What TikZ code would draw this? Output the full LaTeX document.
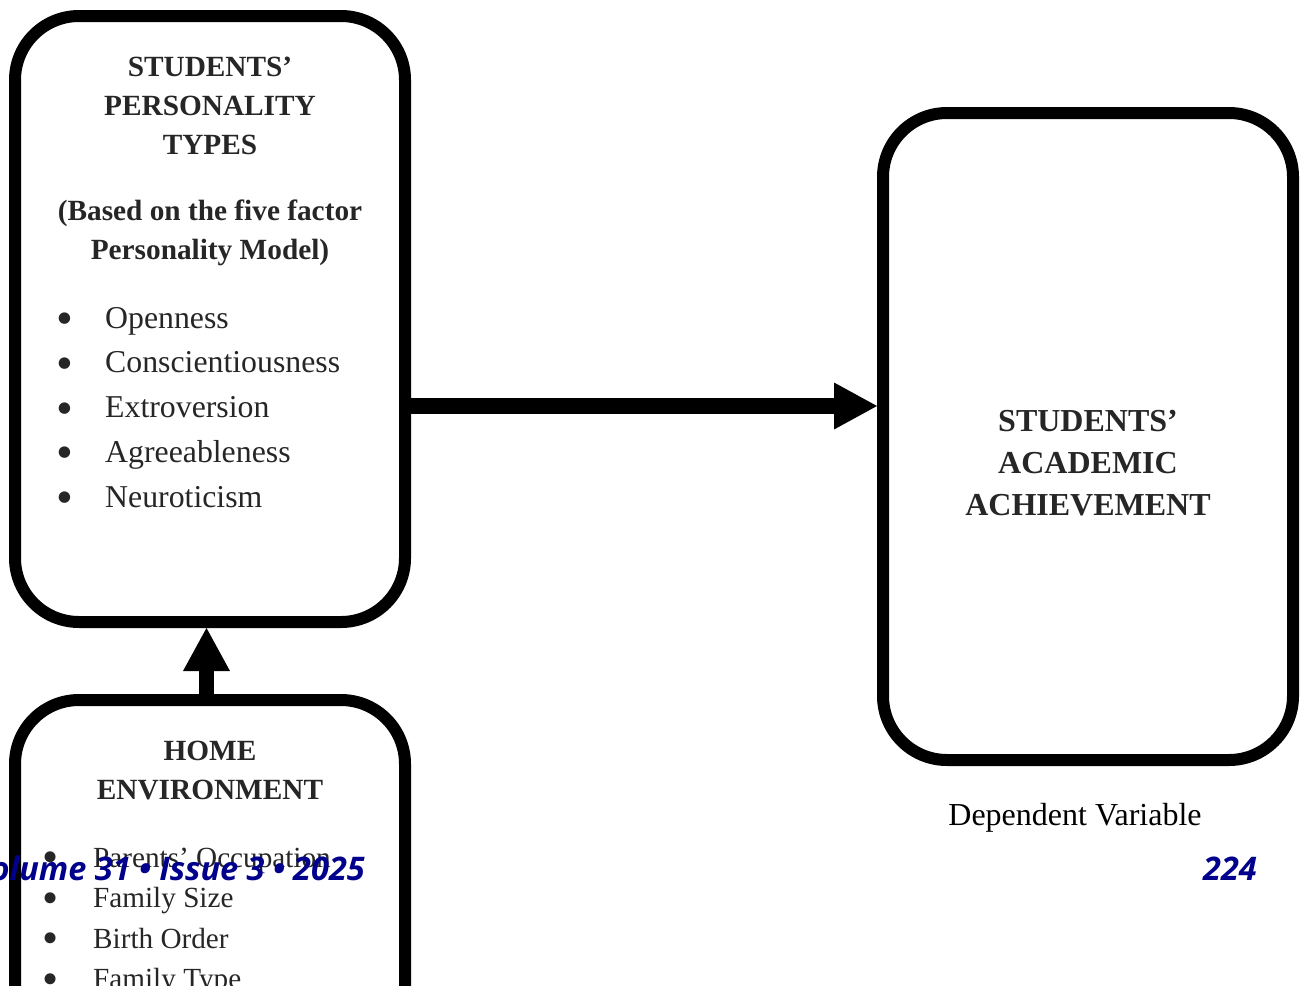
\documentclass[tikz,border=0pt]{standalone}
\usepackage{fontspec}
\setmainfont{Liberation Serif}
\newfontfamily\footfont{Open Sans}
\usetikzlibrary{arrows.meta}
\definecolor{txt}{RGB}{38,38,38}
\definecolor{footblue}{RGB}{0,0,140}
\tikzset{
  box/.style={draw=black, line width=12pt, rounded corners=64pt, inner sep=0pt},
  conn/.style={line width=15.5pt, -{Triangle[length=43pt,width=47pt,line width=0pt]}},
  ttl/.style={font=\fontsize{29.3}{35}\selectfont\bfseries, text=txt, anchor=base, inner sep=0pt},
  big/.style={font=\fontsize{32}{38}\selectfont\bfseries, text=txt, anchor=base, inner sep=0pt},
  lbl/.style={font=\fontsize{32}{38}\selectfont, text=black, anchor=base, inner sep=0pt},
  bulA/.style={font=\fontsize{48}{52}\selectfont, text=txt, anchor=base, inner sep=0pt},
  itemA/.style={font=\fontsize{31.8}{37}\selectfont, text=txt, anchor=base west, inner sep=0pt},
  bulB/.style={font=\fontsize{46}{50}\selectfont, text=txt, anchor=base, inner sep=0pt},
  itemB/.style={font=\fontsize{29.2}{35}\selectfont, text=txt, anchor=base west, inner sep=0pt},
  foot/.style={font=\footfont\fontsize{32.5}{38}\selectfont\bfseries\itshape, text=footblue, anchor=base east, inner sep=0pt}
}
\begin{document}
\begin{tikzpicture}[x=1pt,y=-1pt]
\useasboundingbox (0,0) rectangle (1303,985);
\clip (0,0) rectangle (1303,985);
% boxes
\node[box, minimum width=390pt, minimum height=606pt] (b1) at (210,319) {};
\node[box, minimum width=410pt, minimum height=647pt] (b2) at (1088,436.5) {};
\node[box, minimum width=390pt, minimum height=400pt] (b3) at (210,900) {};
% personality box text
\node[ttl] (t1) at (210,76) {STUDENTS’};
\node[ttl] (t2) at (210,115) {PERSONALITY};
\node[ttl] (t3) at (210,154) {TYPES};
\node[ttl] (t4) at (210,220) {(Based on the five factor};
\node[ttl] (t5) at (210,259) {Personality Model)};
\foreach \t [count=\i] in {Openness,Conscientiousness,Extroversion,Agreeableness,Neuroticism} {
  \node[bulA] (pb\i) at ({64.5},{328+6.5+44.75*(\i-1)}) {•};
  \node[itemA] (pi\i) at ({105},{328+44.75*(\i-1)}) {\t};
}
% achievement box text
\node[big] (r1) at (1088,431) {STUDENTS’};
\node[big] (r2) at (1088,473) {ACADEMIC};
\node[big] (r3) at (1088,515) {ACHIEVEMENT};
\node[lbl] (dv) at (1075,825) {Dependent Variable};
% home environment box text
\node[ttl] (h1) at (210,760) {HOME};
\node[ttl] (h2) at (210,799) {ENVIRONMENT};
\foreach \t [count=\i] in {Parents’ Occupation,Family Size,Birth Order,Family Type} {
  \node[bulB] (hb\i) at ({51},{867+5.7+40.5*(\i-1)}) {•};
  \node[itemB] (hi\i) at ({93},{867+40.5*(\i-1)}) {\t};
}
% connectors
\coordinate (ha) at (640,406);
\coordinate (va) at (206.5,660);
\draw[conn] (b1.east |- ha) -- (b2.west |- ha);
\draw[conn] (va |- b3.north) -- (va |- b1.south);
% footer
\node[foot] (f1) at (365,880) {Volume 31 • Issue 3 • 2025};
\node[foot] (f2) at (1257,880) {224};
\end{tikzpicture}
\end{document}
